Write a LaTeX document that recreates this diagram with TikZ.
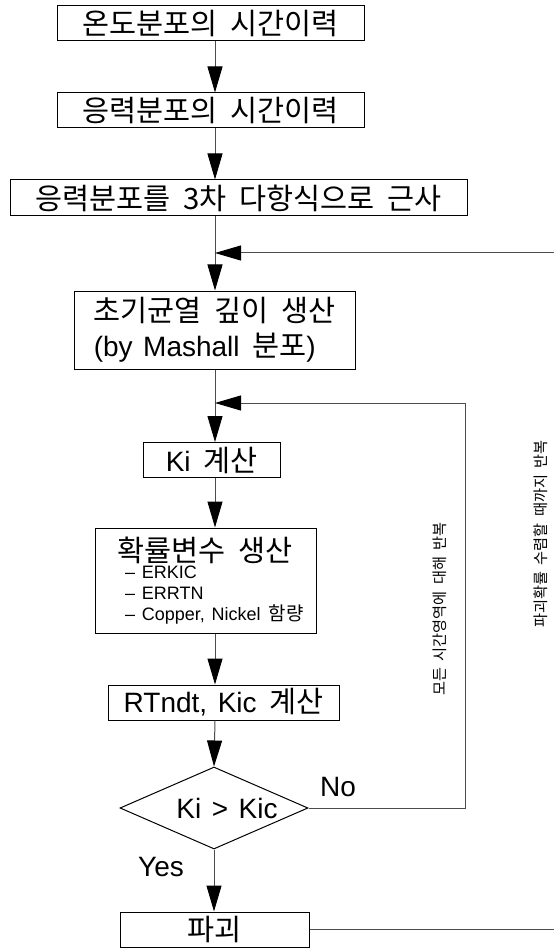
\documentclass[tikz,border=0pt]{standalone}
\usepackage{fontspec}
\setmainfont{Liberation Sans}[WordSpace=1.35]
\newfontfamily\kr{Noto Sans CJK KR}[Scale=1.05,WordSpace=1.9]
\usetikzlibrary{arrows.meta,shapes.geometric}
\tikzset{
  box/.style={draw=black, line width=1pt, inner sep=0pt, font=\fontsize{28}{35}\selectfont},
  big/.style={inner sep=0pt, font=\fontsize{28}{35}\selectfont},
  conn/.style={draw=black!70, line width=1pt},
  arr/.style={conn, -{Triangle[length=26pt,width=15pt,color=black]}},
  vtext/.style={rotate=90, inner sep=0pt, font=\fontsize{14.5}{16}\selectfont\kr},
}
\begin{document}
\begin{tikzpicture}[x=1pt,y=-1pt]
\useasboundingbox (0,0) rectangle (554,949);
\coordinate (ax) at (215,0);
\node[box, minimum width=307pt, minimum height=35pt] (b1) at (210.5,23.5) {\kr 온도분포의 시간이력};
\node[box, minimum width=307pt, minimum height=35pt] (b2) at (210.5,110.5) {\kr 응력분포의 시간이력};
\node[box, minimum width=457pt, minimum height=36pt] (b3) at (238.5,198) {\kr 응력분포를 3차 다항식으로 근사};
\node[box, align=left, minimum width=281pt, minimum height=78pt] (b4) at (214.5,330) {{\kr 초기균열 깊이 생산}\\(by Mashall{\kr\ 분포})};
\node[box, minimum width=137pt, minimum height=35pt] (b5) at (211.5,460) {Ki{\kr\ 계산}};
\node[box, minimum width=221pt, minimum height=105pt] (b6) at (205.5,580.5) {};
\node[big] (t6) at (205,550) {\kr 확률변수 생산};
\node[anchor=west, align=left, inner sep=0pt, font=\fontsize{18}{21}\selectfont] (t6b) at (125,595) {– ERKIC\\– ERRTN\\– Copper, Nickel{\kr\ 함량}};
\node[box, minimum width=231pt, minimum height=35pt] (b7) at (223.5,702.5) {RTndt, Kic{\kr\ 계산}};
\node[draw=black, line width=1pt, diamond, minimum width=188pt, minimum height=82pt, inner sep=0pt] (d) at (214,808) {};
\node[big] (dt) at (227,808) {Ki > Kic};
\node[box, minimum width=189pt, minimum height=35pt] (b8) at (214.5,929.5) {\kr 파괴};
\node[big] (no) at (338,787) {No};
\node[big] (yes) at (161,867) {Yes};
\node[vtext] (v1) at (440,609) {모든 시간영역에 대해 반복};
\node[vtext] (v2) at (541,534) {파괴확률 수렴할 때까지 반복};
\coordinate (r1) at (554,253);
\coordinate (lp) at (465,403);
\coordinate (r2) at (554,929.5);
\draw[arr] (b1.south -| ax) -- (b2.north -| ax);
\draw[arr] (b2.south -| ax) -- (b3.north -| ax);
\draw[arr] (b3.south -| ax) -- (b4.north -| ax);
\draw[arr] (r1) -- (r1 -| ax);
\draw[arr] (b4.south -| ax) -- (b5.north -| ax);
\draw[arr] (d.east) -| (lp) -- (lp -| ax);
\draw[arr] (b5.south -| ax) -- (b6.north -| ax);
\draw[arr] (b6.south -| ax) -- (b7.north -| ax);
\draw[arr] (b7.south -| ax) -- (d.north);
\draw[arr] (d.south) -- (d.south |- b8.north);
\draw[conn] (b8.east) -- (r2);
\end{tikzpicture}
\end{document}
